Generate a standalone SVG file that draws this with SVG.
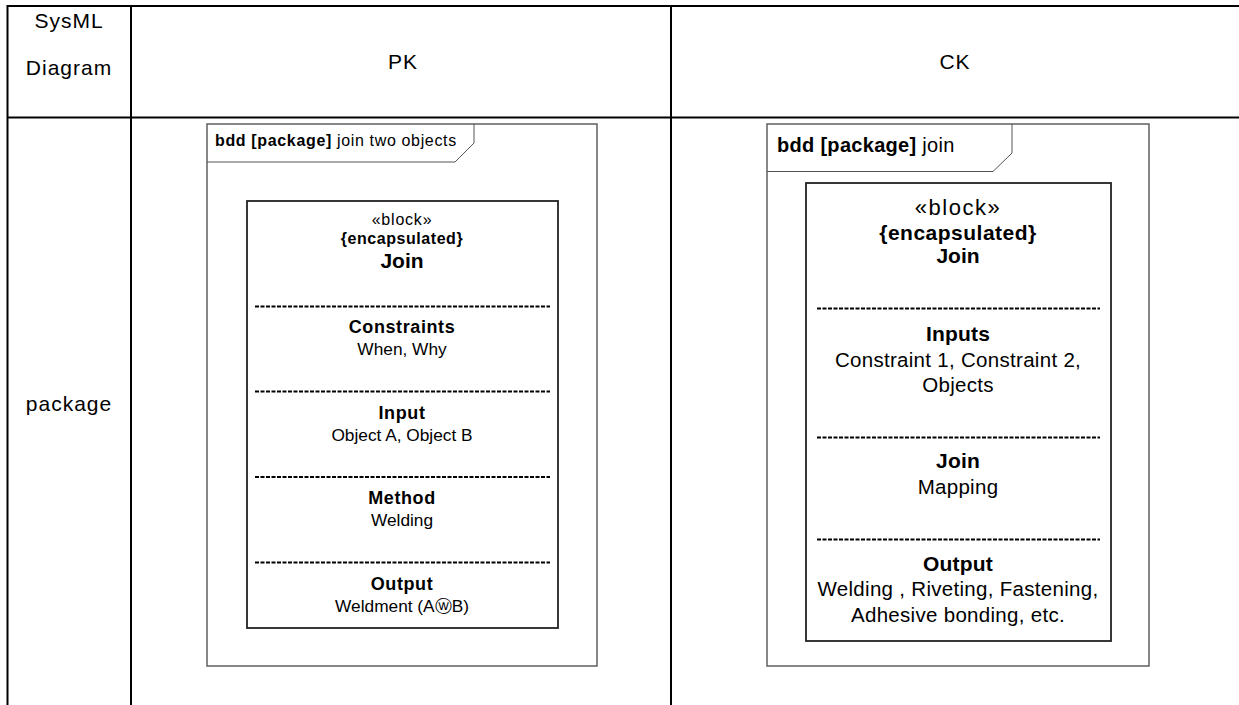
<svg xmlns="http://www.w3.org/2000/svg" width="1239" height="705" viewBox="0 0 1239 705">
  <style>
    text { font-family: "Liberation Sans", Arial, "DejaVu Sans", sans-serif; fill: #000; }
    .grid { stroke: #000; stroke-width: 2; fill: none; }
    .frame { stroke: #6a6a6a; stroke-width: 1.6; fill: #fff; }
    .tab { stroke: #555; stroke-width: 1; fill: none; }
    .block { stroke: #222; stroke-width: 1.8; fill: #fff; }
    .sep { stroke: #000; stroke-width: 2; stroke-dasharray: 4 1.5; }
    .hdr { font-size: 21px; text-anchor: middle; letter-spacing: 1px; }
    .c { text-anchor: middle; }
    .b { font-weight: bold; }
    .pk-reg { font-size: 17.3px; }
    .pk-head { font-size: 18px; font-weight: bold; letter-spacing: 0.6px; }
    .ck-reg { font-size: 20.5px; letter-spacing: 0.3px; }
    .ck-head { font-size: 21px; font-weight: bold; letter-spacing: 0.2px; }
  </style>

  <!-- table rules -->
  <g id="table">
    <line class="grid" x1="7" y1="6" x2="1239" y2="6"/>
    <line class="grid" x1="7" y1="117.5" x2="1239" y2="117.5"/>
    <line class="grid" x1="7.5" y1="5" x2="7.5" y2="705"/>
    <line class="grid" x1="131" y1="5" x2="131" y2="705"/>
    <line class="grid" x1="671" y1="5" x2="671" y2="705"/>
  </g>

  <!-- header and row labels -->
  <g id="headers">
    <text class="hdr" x="69" y="28">SysML</text>
    <text class="hdr" x="69" y="75">Diagram</text>
    <text class="hdr" x="403" y="69">PK</text>
    <text class="hdr" x="955" y="69">CK</text>
    <text class="hdr" x="69" y="411">package</text>
  </g>

  <!-- PK package frame -->
  <g id="pk-frame">
    <rect class="frame" x="207" y="124" width="390" height="542"/>
    <polyline class="tab" points="207,162 455,162 474,143 474,124"/>
    <text x="215" y="146" style="font-size:16px; letter-spacing:0.65px"><tspan class="b">bdd [package]</tspan> join two objects</text>
  </g>

  <!-- PK block -->
  <g id="pk-block">
    <rect class="block" x="247" y="201" width="311" height="427"/>
    <text class="c" x="402" y="225" style="font-size:16px; letter-spacing:0.8px">«block»</text>
    <text class="c b" x="402" y="244" style="font-size:16px; letter-spacing:0.55px">{encapsulated}</text>
    <text class="c b" x="402" y="268" style="font-size:21px">Join</text>
    <line class="sep" x1="255" y1="306.5" x2="550" y2="306.5"/>
    <text class="c pk-head" x="402" y="333">Constraints</text>
    <text class="c pk-reg" x="402" y="355">When, Why</text>
    <line class="sep" x1="255" y1="391.5" x2="550" y2="391.5"/>
    <text class="c pk-head" x="402" y="419">Input</text>
    <text class="c pk-reg" x="402" y="441">Object A, Object B</text>
    <line class="sep" x1="255" y1="477" x2="550" y2="477"/>
    <text class="c pk-head" x="402" y="504">Method</text>
    <text class="c pk-reg" x="402" y="526">Welding</text>
    <line class="sep" x1="255" y1="562.5" x2="550" y2="562.5"/>
    <text class="c pk-head" x="402" y="590">Output</text>
    <text class="c pk-reg" x="402" y="612">Weldment (AⓦB)</text>
  </g>

  <!-- CK package frame -->
  <g id="ck-frame">
    <rect class="frame" x="767" y="124" width="382" height="542"/>
    <polyline class="tab" points="767,171.5 993,171.5 1012,153 1012,124"/>
    <text x="777" y="152" style="font-size:20px; letter-spacing:0.3px"><tspan class="b">bdd [package]</tspan> join</text>
  </g>

  <!-- CK block -->
  <g id="ck-block">
    <rect class="block" x="806" y="183" width="305" height="458"/>
    <text class="c" x="958" y="215" style="font-size:22px; letter-spacing:1.5px">«block»</text>
    <text class="c b" x="958" y="240" style="font-size:21px; letter-spacing:0.5px">{encapsulated}</text>
    <text class="c b" x="958" y="263" style="font-size:21px">Join</text>
    <line class="sep" x1="817" y1="308.5" x2="1100" y2="308.5"/>
    <text class="c ck-head" x="958" y="341">Inputs</text>
    <text class="c ck-reg" x="958" y="367">Constraint 1, Constraint 2,</text>
    <text class="c ck-reg" x="958" y="392">Objects</text>
    <line class="sep" x1="817" y1="437.5" x2="1100" y2="437.5"/>
    <text class="c ck-head" x="958" y="468">Join</text>
    <text class="c ck-reg" x="958" y="494">Mapping</text>
    <line class="sep" x1="817" y1="539.5" x2="1100" y2="539.5"/>
    <text class="c ck-head" x="958" y="571">Output</text>
    <text class="c ck-reg" x="958" y="596">Welding , Riveting, Fastening,</text>
    <text class="c ck-reg" x="958" y="622">Adhesive bonding, etc.</text>
  </g>
</svg>
